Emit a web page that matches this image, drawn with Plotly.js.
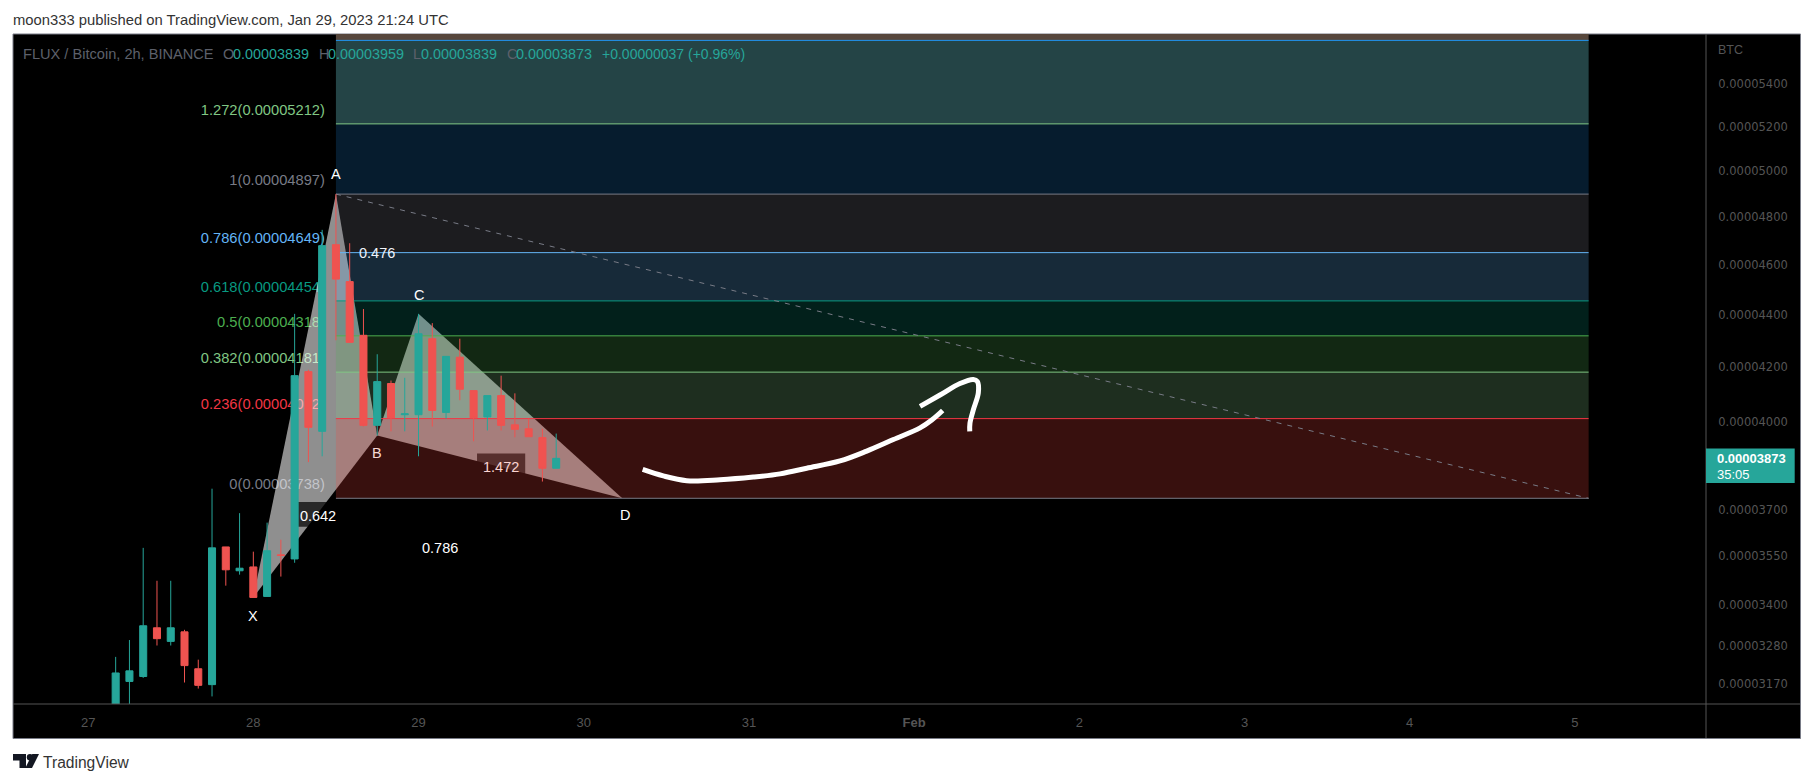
<!DOCTYPE html>
<html>
<head>
<meta charset="utf-8">
<script src="https://cdn.plot.ly/plotly-3.0.1.min.js"></script>
<style>
html,body{margin:0;padding:0;background:#fff;width:1814px;height:783px;overflow:hidden}
#chart{position:absolute;left:0;top:0;width:1814px;height:783px}
#logo{position:absolute;left:13px;top:753px}
</style>
</head>
<body>
<div id="chart"></div>
<svg id="logo" width="26" height="17" viewBox="0 0 26 17">
  <path d="M0 1H13V15H6.5V7.5H0Z" fill="#131722"/>
  <circle cx="17" cy="4.2" r="3.2" fill="#131722"/>
  <path d="M19 15H12.3L19.3 1H26Z" fill="#131722"/>
</svg>
<script>
// ---- candles (2h, BINANCE FLUXBTC, values in units of 1e-8 BTC) ----
const times = ['2023-01-27T04:00','2023-01-27T06:00','2023-01-27T08:00','2023-01-27T10:00','2023-01-27T12:00','2023-01-27T14:00','2023-01-27T16:00','2023-01-27T18:00','2023-01-27T20:00','2023-01-27T22:00',
 '2023-01-28T00:00','2023-01-28T02:00','2023-01-28T04:00','2023-01-28T06:00','2023-01-28T08:00','2023-01-28T10:00','2023-01-28T12:00','2023-01-28T14:00','2023-01-28T16:00','2023-01-28T18:00','2023-01-28T20:00','2023-01-28T22:00',
 '2023-01-29T00:00','2023-01-29T02:00','2023-01-29T04:00','2023-01-29T06:00','2023-01-29T08:00','2023-01-29T10:00','2023-01-29T12:00','2023-01-29T14:00','2023-01-29T16:00','2023-01-29T18:00','2023-01-29T20:00'];
const opens  = [3085,3177,3191,3332,3292,3320,3213,3168,3580,3505,3517,3426,3555,3542,4183,3967,4682,4531,4320,3988,4139,4026,4026,4307,4034,4237,4113,4018,4095,3990,3976,3945,3839];
const highs  = [3247,3296,3577,3474,3474,3326,3239,3770,3580,3689,3565,3658,3603,4403,4190,4744,4897,4688,4422,4248,4150,4160,4403,4367,4240,4307,4113,4095,4168,4103,4012,3976,3959];
const lows   = [3060,3100,3187,3280,3280,3174,3157,3135,3459,3493,3423,3426,3487,3530,3860,3880,4301,4293,3984,3952,3967,3967,3880,3984,4012,4078,3932,3970,3970,3946,3948,3794,3839];
const closes = [3201,3207,3338,3300,3332,3222,3166,3577,3508,3513,3423,3568,3553,4168,3981,4678,4541,4293,3988,4146,4015,4029,4326,4041,4240,4118,4015,4095,3988,3974,3948,3839,3873];

// ---- fibonacci retracement ----
const fibStart = '2023-01-28T12:00';
const fibEnd   = '2023-02-05T02:00';
const fibLabelEnd = '2023-01-28T10:24';
const fibLevels = ['1.618','1.272','1','0.786','0.618','0.5','0.382','0.236','0'];
const fibPrices = [5613,5212,4897,4649,4454,4318,4181,4012,3738];
const fibLabelPrices = ['', '0.00005212','0.00004897','0.00004649','0.00004454','0.00004318','0.00004181','0.00004012','0.00003738'];
const fibColors = ['#2196f3','#81c784','#787b86','#64b5f6','#089981','#4caf50','#81c784','#f23645','#787b86'];
const bandColors = ['#244446','rgba(33,150,243,0.19)','rgba(120,123,134,0.23)','rgba(100,181,246,0.23)','rgba(8,153,129,0.21)','rgba(76,175,80,0.23)','rgba(129,199,132,0.23)','rgba(240,70,60,0.23)'];
const topBandPrice = 6772;
const topBandColor = '#57473c';

// ---- harmonic XABCD ----
const harmTimes = {X:'2023-01-28T00:00',A:'2023-01-28T12:00',B:'2023-01-28T18:00',C:'2023-01-29T00:00',D:'2023-01-30T05:36'};
const harmPrices = {X:3423,A:4897,B:3952,C:4403,D:3738};
const ratioBoxes = [
  {text:'0.642',x0:'2023-01-28T05:54',x1:'2023-01-28T12:54',hi:3726,lo:3645},
  {text:'1.472',x0:'2023-01-29T08:30',x1:'2023-01-29T15:30',hi:3890,lo:3806}
];

// ---- hand-drawn arrow ----
const arrowTimes1 = ['2023-01-30T08:34','2023-01-30T11:34','2023-01-30T14:58','2023-01-30T19:48','2023-01-31T00:38','2023-01-31T04:31','2023-01-31T08:24','2023-01-31T13:14','2023-01-31T17:07','2023-01-31T20:59','2023-02-01T00:52','2023-02-01T02:34','2023-02-01T04:09'];
const arrowPrices1 = [3835,3813,3797,3800,3809,3820,3839,3864,3898,3938,3979,4007,4041];
const arrowTimes2 = ['2023-02-01T00:52','2023-02-01T03:46','2023-02-01T06:40','2023-02-01T08:36','2023-02-01T09:11','2023-02-01T09:20','2023-02-01T08:36','2023-02-01T08:07','2023-02-01T08:05'];
const arrowPrices2 = [4056,4097,4139,4154,4147,4105,4043,3996,3967];

// ---- axes ----
const priceTicks = [5400,5200,5000,4800,4600,4400,4200,4000,3700,3550,3400,3280,3170];
const dateTicks = ['2023-01-27','2023-01-28','2023-01-29','2023-01-30','2023-01-31','2023-02-01','2023-02-02','2023-02-03','2023-02-04','2023-02-05'];
const dateLabels = ['27','28','29','30','31','<b>Feb</b>','2','3','4','5'];

const P = v => v*1e-8;
const FONT = '"Liberation Sans", Arial, sans-serif';
const W = 1814, H = 783, L = 13, T = 34, R = 1706, B = 704;
const px = x => (x-L)/(R-L), py = y => (B-y)/(B-T);

const shapes = [];
// chart frame (paper-anchored)
shapes.push({type:'rect',xref:'paper',yref:'paper',x0:0,x1:px(1800.5),y0:py(738.5),y1:py(34),fillcolor:'#000',line:{color:'#787b86',width:1},layer:'below'});
shapes.push({type:'line',xref:'paper',yref:'paper',x0:0,x1:px(1800),y0:py(704),y1:py(704),line:{color:'#555',width:1},layer:'above'});
shapes.push({type:'line',xref:'paper',yref:'paper',x0:1,x1:1,y0:py(738),y1:py(34),line:{color:'#555',width:1},layer:'above'});
// level labels, lowest in the stack
fibLevels.forEach((lv,i)=>{
  if(!fibLabelPrices[i]) return;
  shapes.push({type:'line',xref:'x',yref:'y',x0:fibLabelEnd,x1:fibStart,y0:P(fibPrices[i]),y1:P(fibPrices[i]),line:{color:'rgba(0,0,0,0)',width:0},layer:'below',
    label:{text:lv+'('+fibLabelPrices[i]+')',textposition:'start',xanchor:'right',yanchor:'bottom',padding:8,font:{family:FONT,size:14.7,color:fibColors[i]}}});
});
// harmonic triangles (under the translucent fib bands)
const tri = (a,b,c)=>`M${harmTimes[a].replace('T','_')},${P(harmPrices[a])}L${harmTimes[b].replace('T','_')},${P(harmPrices[b])}L${harmTimes[c].replace('T','_')},${P(harmPrices[c])}Z`;
[['X','A','B'],['B','C','D']].forEach(t=>shapes.push({type:'path',xref:'x',yref:'y',path:tri(...t),fillcolor:'rgba(255,255,255,0.56)',line:{width:0},layer:'below'}));
// ratio boxes
ratioBoxes.forEach(b=>shapes.push({type:'rect',xref:'x',yref:'y',x0:b.x0,x1:b.x1,y0:P(b.lo),y1:P(b.hi),fillcolor:'rgba(0,0,0,0.71)',line:{width:0},layer:'below',
  label:{text:b.text,textposition:'middle center',font:{family:FONT,size:14.5,color:'#fff'}}}));
// bands
shapes.push({type:'rect',xref:'x',yref:'y',x0:fibStart,x1:fibEnd,y0:P(fibPrices[0]),y1:P(topBandPrice),fillcolor:topBandColor,line:{width:0},layer:'below'});
bandColors.forEach((c,i)=>shapes.push({type:'rect',xref:'x',yref:'y',x0:fibStart,x1:fibEnd,y0:P(fibPrices[i+1]),y1:P(fibPrices[i]),fillcolor:c,line:{width:0},layer:'below'}));
// level lines
fibLevels.forEach((lv,i)=>shapes.push({type:'line',xref:'x',yref:'y',x0:fibStart,x1:fibEnd,y0:P(fibPrices[i]),y1:P(fibPrices[i]),line:{color:fibColors[i],width:1},layer:'below'}));
// dashed trend line
shapes.push({type:'line',xref:'x',yref:'y',x0:fibStart,x1:fibEnd,y0:P(fibPrices[2]),y1:P(fibPrices[8]),line:{color:'#787b86',width:1,dash:'5px,6px'},layer:'below'});
// last price tag
shapes.push({type:'rect',xref:'paper',yref:'paper',x0:1,x1:px(1794.7),y0:py(483),y1:py(448.5),fillcolor:'#26a69a',line:{width:0},layer:'above'});

const log10P = v => Math.log10(P(v));
const pointLabel = (t,x,v,yshift,col,xshift)=>({text:t,x:x,y:log10P(v),xref:'x',yref:'y',yshift:yshift,xshift:xshift||0,showarrow:false,font:{family:FONT,size:14.5,color:col||'#fff'}});
const abs = (t,x,y,anchor,size,col)=>({text:t,x:px(x),y:py(y),xref:'paper',yref:'paper',xanchor:anchor,yanchor:'middle',showarrow:false,font:{family:FONT,size:size,color:col}});

const GREY='#5d606b', TEAL='#26a69a';
const annotations = [
  pointLabel('X',harmTimes.X,harmPrices.X,-19),
  pointLabel('A',harmTimes.A,harmPrices.A,20),
  pointLabel('B',harmTimes.B,harmPrices.B,-17,'#f7d8d4'),
  pointLabel('C',harmTimes.C,harmPrices.C,19),
  pointLabel('D',harmTimes.D,harmPrices.D,-17,'#fff',3),
  pointLabel('0.476','2023-01-28T18:00',4649,0,'#f0f3fa'),
  pointLabel('0.786','2023-01-29T03:05',3578,0),
  abs('moon333 published on TradingView.com, Jan 29, 2023 21:24 UTC',11,20,'left',14.8,'#333'),
  abs('FLUX / Bitcoin, 2h, BINANCE',21,54,'left',14.6,GREY),
  abs('O',221,54,'left',14.4,GREY), abs('0.00003839',231,54,'left',14.4,TEAL),
  abs('H',317,54,'left',14.4,GREY), abs('0.00003959',326,54,'left',14.4,TEAL),
  abs('L',411,54,'left',14.4,GREY), abs('0.00003839',419,54,'left',14.4,TEAL),
  abs('C',505,54,'left',14.4,GREY), abs('0.00003873',514,54,'left',14.4,TEAL),
  abs('+0.00000037 (+0.96%)',600,54,'left',14,TEAL),
  abs('BTC',1716,50,'left',12.5,'#555'),
  abs('<b>0.00003873</b>',1715,458,'left',13,'#fff'),
  abs('35:05',1715,474,'left',13,'#fff'),
  abs('TradingView',41,762,'left',15.6,'#333')
];

const traces = [
  {type:'candlestick',x:times,open:opens.map(P),high:highs.map(P),low:lows.map(P),close:closes.map(P),
   increasing:{line:{color:'#26a69a',width:1},fillcolor:'#26a69a'},
   decreasing:{line:{color:'#ef5350',width:1},fillcolor:'#ef5350'},
   hoverinfo:'skip',showlegend:false},
  {type:'scatter',mode:'lines',x:arrowTimes1,y:arrowPrices1.map(P),line:{color:'#fff',width:5,shape:'spline'},hoverinfo:'skip',showlegend:false},
  {type:'scatter',mode:'lines',x:arrowTimes2,y:arrowPrices2.map(P),line:{color:'#fff',width:5,shape:'spline'},hoverinfo:'skip',showlegend:false}
];

// x-range from the picture: 165.2 px per day, Jan 28 00:00 at x = 253.3
const layout = {
  width:W,height:H,
  paper_bgcolor:'#fff',plot_bgcolor:'#000',
  margin:{l:L,t:T,r:W-R,b:H-B,pad:0},
  showlegend:false,
  boxgap:0.27,
  xaxis:{type:'date',range:['2023-01-26T13:05','2023-02-05T19:03'],rangeslider:{visible:false},showgrid:false,zeroline:false,showline:false,
    tickmode:'array',tickvals:dateTicks,ticktext:dateLabels,ticks:'outside',ticklen:6,tickcolor:'rgba(0,0,0,0)',tickfont:{family:FONT,size:13,color:'#555'}},
  yaxis:{type:'log',side:'right',range:[Math.log10(P(3114)),Math.log10(P(5645))],showgrid:false,zeroline:false,showline:false,
    tickmode:'array',tickvals:priceTicks.map(P),ticktext:priceTicks.map(v=>'0.0000'+v),ticks:'outside',ticklen:9,tickcolor:'rgba(0,0,0,0)',tickfont:{family:'"DejaVu Sans"',size:11.5,color:'#555'}},
  shapes:shapes,annotations:annotations
};
Plotly.newPlot('chart',traces,layout,{displayModeBar:false,staticPlot:true});
</script>
</body>
</html>
